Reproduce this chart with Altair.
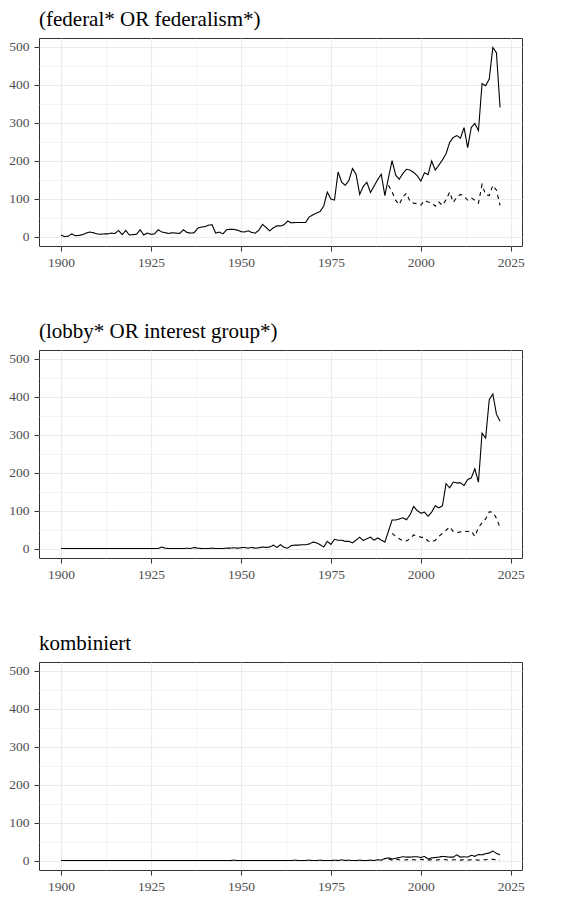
import altair as alt
import pandas as pd

# ---------------- data ----------------
years = list(range(1900, 2023))

panel_titles = ["(federal* OR federalism*)", "(lobby* OR interest group*)", "kombiniert"]

fed_solid = [
    4, 0, 1, 7, 2, 3, 5, 9, 12, 10,
    7, 6, 7, 7, 9, 8, 16, 5, 16, 4,
    5, 6, 18, 4, 9, 6, 7, 18, 12, 10,
    8, 10, 9, 8, 18, 11, 9, 10, 22, 25,
    26, 30, 31, 9, 12, 7, 18, 19, 19, 17,
    13, 12, 15, 11, 9, 17, 32, 24, 15, 23,
    28, 28, 31, 41, 36, 37, 37, 37, 37, 52,
    57, 62, 66, 80, 117, 99, 96, 170, 143, 135,
    148, 179, 164, 111, 132, 143, 116, 133, 150, 164,
    108, 155, 200, 162, 151, 166, 177, 175, 169, 160,
    146, 168, 163, 199, 175, 188, 202, 218, 248, 261,
    266, 259, 287, 234, 287, 298, 279, 403, 397, 415,
    498, 484, 340,
]
fed_dash_years = list(range(1991, 2023))
fed_dash = [
    135, 118, 95, 84, 105, 114, 92, 88, 86, 83,
    95, 91, 89, 80, 91, 82, 97, 117, 90, 104,
    111, 106, 96, 102, 95, 88, 137, 110, 108, 135,
    122, 82,
]

lob_solid = [
    0, 0, 0, 0, 0, 0, 0, 0, 0, 0,
    0, 0, 0, 0, 0, 0, 0, 0, 0, 0,
    0, 0, 0, 0, 0, 0, 0, 0, 4, 1,
    0, 0, 0, 0, 0, 1, 0, 3, 1, 0,
    0, 0, 1, 0, 0, 0, 1, 1, 2, 1,
    2, 3, 1, 3, 1, 2, 4, 3, 4, 9,
    3, 10, 3, 1, 8, 9, 9, 10, 10, 12,
    17, 15, 10, 4, 19, 11, 24, 22, 22, 19,
    19, 15, 22, 30, 21, 26, 30, 22, 28, 22,
    17, 46, 75, 75, 78, 81, 76, 89, 111, 100,
    93, 96, 85, 96, 113, 107, 113, 171, 160, 175,
    173, 173, 166, 182, 186, 210, 175, 304, 291, 392,
    407, 354, 335,
]
lob_dash_years = list(range(1992, 2023))
lob_dash = [
    40, 32, 26, 20, 20, 26, 36, 32, 30, 29,
    20, 17, 22, 32, 40, 48, 57, 45, 42, 44,
    46, 45, 46, 32, 55, 68, 78, 97, 96, 80,
    55,
]

comb_solid = [
    0, 0, 0, 0, 0, 0, 0, 0, 0, 0,
    0, 0, 0, 0, 0, 0, 0, 0, 0, 0,
    0, 0, 0, 0, 0, 0, 0, 0, 0, 0,
    0, 0, 0, 0, 0, 0, 0, 0, 0, 0,
    0, 0, 0, 0, 0, 0, 0, 0, 1, 0,
    0, 0, 0, 0, 0, 0, 0, 0, 0, 0,
    0, 0, 0, 0, 0, 1, 0, 0, 0, 1,
    0, 0, 1, 0, 0, 0, 1, 0, 2, 0,
    1, 0, 0, 1, 0, 0, 1, 0, 2, 1,
    5, 7, 4, 6, 8, 10, 9, 9, 10, 10,
    8, 11, 4, 7, 8, 9, 11, 10, 9, 9,
    15, 9, 10, 9, 14, 11, 16, 15, 18, 20,
    25, 19, 15,
]
comb_dash_years = list(range(1991, 2023))
comb_dash = [
    4, 1, 3, 2, 1, 2, 3, 2, 1, 3,
    2, 1, 2, 1, 2, 3, 2, 1, 2, 2,
    1, 2, 1, 2, 3, 1, 2, 2, 3, 3,
    2, 2,
]

x_breaks = [1900, 1912.5, 1925, 1937.5, 1950, 1962.5, 1975, 1987.5, 2000, 2012.5, 2025]
y_breaks = [0, 50, 100, 150, 200, 250, 300, 350, 400, 450, 500]

FONT = "Liberation Serif"


def panel(title, solid, dyears, dashed):
    df = pd.concat([
        pd.DataFrame({"year": years, "n": solid, "typ": "gesamt"}),
        pd.DataFrame({"year": dyears, "n": dashed, "typ": "teil"}),
    ], ignore_index=True)
    x_major = "datum.value % 25 === 0"
    y_major = "datum.value % 100 === 0"
    return alt.Chart(df).mark_line(color="black", strokeWidth=1.1).encode(
        x=alt.X("year:Q", title=None,
                scale=alt.Scale(domain=[1893.9, 2028.1], nice=False, zero=False),
                axis=alt.Axis(values=x_breaks, format="d",
                              labelExpr=f"{x_major} ? datum.label : ''",
                              tickOpacity={"condition": {"test": x_major, "value": 1}, "value": 0},
                              gridWidth={"condition": {"test": x_major, "value": 1.1}, "value": 0.55},
                              gridColor="#EBEBEB", domain=False,
                              tickColor="#333333", tickSize=5, labelPadding=4,
                              labelColor="#4D4D4D", labelFont=FONT, labelFontSize=13.5)),
        y=alt.Y("n:Q", title=None,
                scale=alt.Scale(domain=[-24.9, 522.9], nice=False, zero=False),
                axis=alt.Axis(values=y_breaks,
                              labelExpr=f"{y_major} ? datum.label : ''",
                              tickOpacity={"condition": {"test": y_major, "value": 1}, "value": 0},
                              gridWidth={"condition": {"test": y_major, "value": 1.1}, "value": 0.55},
                              gridColor="#EBEBEB", domain=False,
                              tickColor="#333333", tickSize=5, labelPadding=5,
                              labelColor="#4D4D4D", labelFont=FONT, labelFontSize=13.5)),
        strokeDash=alt.StrokeDash("typ:N",
                                  scale=alt.Scale(domain=["gesamt", "teil"], range=[[1, 0], [4, 4]]),
                                  legend=None),
    ).properties(
        width=483, height=208,
        title=alt.TitleParams(title, anchor="start", frame="group", font=FONT, fontSize=21,
                              fontWeight="normal", color="black", offset=8),
    )


chart = alt.vconcat(
    panel(panel_titles[0], fed_solid, fed_dash_years, fed_dash),
    panel(panel_titles[1], lob_solid, lob_dash_years, lob_dash),
    panel(panel_titles[2], comb_solid, comb_dash_years, comb_dash),
    spacing=51,
).properties(padding=0).configure_view(stroke="#333333", strokeWidth=1)

chart.save("out.html", embed_options={"renderer": "svg", "actions": False})
